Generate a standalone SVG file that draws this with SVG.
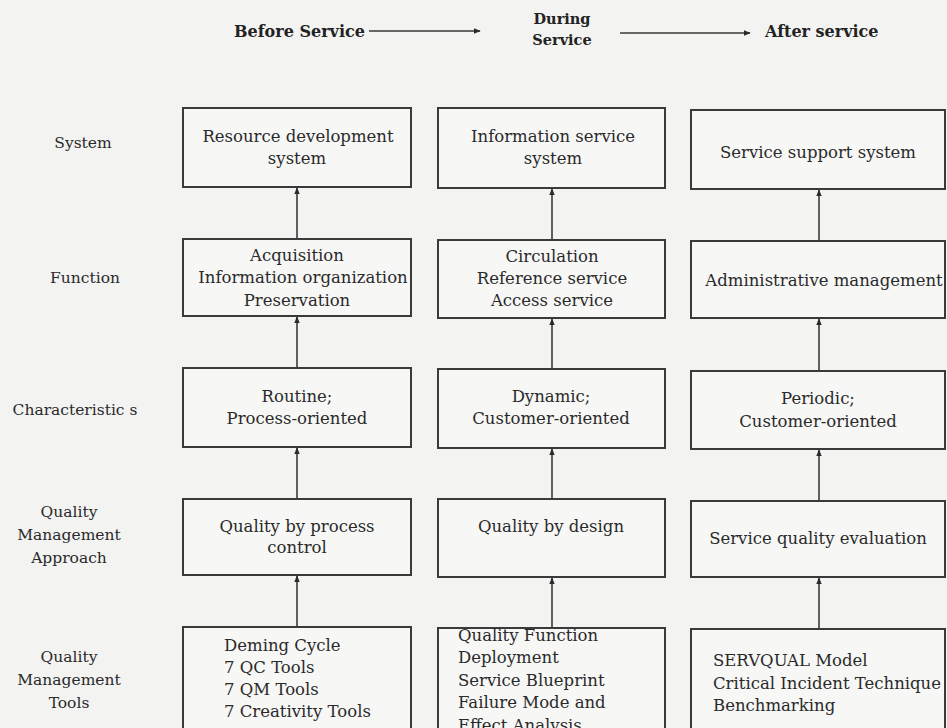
<svg xmlns="http://www.w3.org/2000/svg" width="947" height="728" viewBox="0 0 947 728">
<defs>
<style>
.bg{fill:#f3f3f2}
.box{fill:#f7f7f6;stroke:#3a3a3a;stroke-width:2}
.t{font-family:"DejaVu Serif","Liberation Serif",serif;font-size:16.5px;fill:#2a2a2a}
.c{text-anchor:middle}
.lbl{font-family:"DejaVu Serif","Liberation Serif",serif;font-size:15.5px;fill:#2a2a2a;text-anchor:middle}
.hd{font-family:"DejaVu Serif","Liberation Serif",serif;font-size:16px;font-weight:bold;fill:#222}
.hd2{font-family:"DejaVu Serif","Liberation Serif",serif;font-size:14.5px;font-weight:bold;fill:#222;text-anchor:middle}
.con{stroke:#3a3a3a;stroke-width:1.6;fill:none}
</style>
<marker id="ah" viewBox="0 0 10 10" refX="9" refY="5" markerWidth="7" markerHeight="7" orient="auto" markerUnits="userSpaceOnUse">
<path d="M0,1 L10,5 L0,9 z" fill="#2a2a2a"/>
</marker>
</defs>
<rect class="bg" x="0" y="0" width="947" height="728"/>

<g id="header">
<text class="hd" x="234" y="37">Before Service</text>
<text class="hd2" x="562" y="24">During</text>
<text class="hd2" x="562" y="45">Service</text>
<text class="hd" x="765" y="37">After service</text>
</g>

<g id="row-labels">
<text class="lbl" x="83" y="148">System</text>
<text class="lbl" x="85" y="283">Function</text>
<text class="lbl" x="75" y="415">Characteristic s</text>
<text class="lbl" x="69" y="517">Quality</text>
<text class="lbl" x="69" y="540">Management</text>
<text class="lbl" x="69" y="563">Approach</text>
<text class="lbl" x="69" y="662">Quality</text>
<text class="lbl" x="69" y="685">Management</text>
<text class="lbl" x="69" y="708">Tools</text>
</g>

<g id="connectors">
<line class="con" x1="369" y1="31" x2="480" y2="31" marker-end="url(#ah)"/>
<line class="con" x1="620" y1="33" x2="750" y2="33" marker-end="url(#ah)"/>
<line class="con" x1="297" y1="239" x2="297" y2="188" marker-end="url(#ah)"/>
<line class="con" x1="297" y1="368" x2="297" y2="317" marker-end="url(#ah)"/>
<line class="con" x1="297" y1="499" x2="297" y2="448" marker-end="url(#ah)"/>
<line class="con" x1="297" y1="627" x2="297" y2="576" marker-end="url(#ah)"/>
<line class="con" x1="552" y1="240" x2="552" y2="189" marker-end="url(#ah)"/>
<line class="con" x1="552" y1="369" x2="552" y2="319" marker-end="url(#ah)"/>
<line class="con" x1="552" y1="499" x2="552" y2="449" marker-end="url(#ah)"/>
<line class="con" x1="552" y1="628" x2="552" y2="578" marker-end="url(#ah)"/>
<line class="con" x1="819" y1="241" x2="819" y2="190" marker-end="url(#ah)"/>
<line class="con" x1="819" y1="371" x2="819" y2="319" marker-end="url(#ah)"/>
<line class="con" x1="819" y1="501" x2="819" y2="450" marker-end="url(#ah)"/>
<line class="con" x1="819" y1="629" x2="819" y2="578" marker-end="url(#ah)"/>
</g>

<g id="n-resource-dev">
<rect class="box" x="183" y="108" width="228" height="79"/>
<text class="t c" x="298" y="142">Resource development</text>
<text class="t c" x="297" y="164">system</text>
</g>
<g id="n-info-service">
<rect class="box" x="438" y="108" width="227" height="80"/>
<text class="t c" x="553" y="142">Information service</text>
<text class="t c" x="553" y="164">system</text>
</g>
<g id="n-service-support">
<rect class="box" x="691" y="110" width="254" height="79"/>
<text class="t c" x="818" y="158">Service support system</text>
</g>

<g id="n-acquisition">
<rect class="box" x="183" y="239" width="228" height="77"/>
<text class="t c" x="297" y="261">Acquisition</text>
<text class="t c" x="303" y="283">Information organization</text>
<text class="t c" x="297" y="306">Preservation</text>
</g>
<g id="n-circulation">
<rect class="box" x="438" y="240" width="227" height="78"/>
<text class="t c" x="552" y="262">Circulation</text>
<text class="t c" x="552" y="284">Reference service</text>
<text class="t c" x="552" y="306">Access service</text>
</g>
<g id="n-admin">
<rect class="box" x="691" y="241" width="254" height="77"/>
<text class="t c" x="824" y="286">Administrative management</text>
</g>

<g id="n-routine">
<rect class="box" x="183" y="368" width="228" height="79"/>
<text class="t c" x="297" y="402">Routine;</text>
<text class="t c" x="297" y="424">Process-oriented</text>
</g>
<g id="n-dynamic">
<rect class="box" x="438" y="369" width="227" height="79"/>
<text class="t c" x="551" y="402">Dynamic;</text>
<text class="t c" x="551" y="424">Customer-oriented</text>
</g>
<g id="n-periodic">
<rect class="box" x="691" y="371" width="254" height="78"/>
<text class="t c" x="818" y="404">Periodic;</text>
<text class="t c" x="818" y="427">Customer-oriented</text>
</g>

<g id="n-process-control">
<rect class="box" x="183" y="499" width="228" height="76"/>
<text class="t c" x="297" y="532">Quality by process</text>
<text class="t c" x="297" y="553">control</text>
</g>
<g id="n-design">
<rect class="box" x="438" y="499" width="227" height="78"/>
<text class="t c" x="551" y="532">Quality by design</text>
</g>
<g id="n-evaluation">
<rect class="box" x="691" y="501" width="254" height="76"/>
<text class="t c" x="818" y="544">Service quality evaluation</text>
</g>

<g id="n-tools-before">
<rect class="box" x="183" y="627" width="228" height="120"/>
<text class="t" x="224" y="651">Deming Cycle</text>
<text class="t" x="224" y="673">7 QC Tools</text>
<text class="t" x="224" y="695">7 QM Tools</text>
<text class="t" x="224" y="717">7 Creativity Tools</text>
</g>
<g id="n-tools-during">
<rect class="box" x="438" y="628" width="227" height="120"/>
<text class="t" x="458" y="641">Quality Function</text>
<text class="t" x="458" y="663">Deployment</text>
<text class="t" x="458" y="686">Service Blueprint</text>
<text class="t" x="458" y="708">Failure Mode and</text>
<text class="t" x="458" y="731">Effect Analysis</text>
</g>
<g id="n-tools-after">
<rect class="box" x="691" y="629" width="254" height="120"/>
<text class="t" x="713" y="666">SERVQUAL Model</text>
<text class="t" x="713" y="689">Critical Incident Technique</text>
<text class="t" x="713" y="711">Benchmarking</text>
</g>
</svg>
